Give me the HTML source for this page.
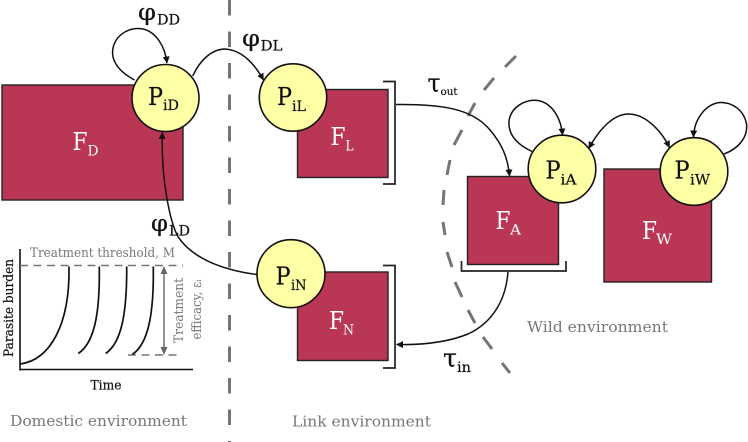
<!DOCTYPE html>
<html><head><meta charset="utf-8"><style>
html,body{margin:0;padding:0;background:#fff}
svg{display:block}
text{font-family:"DejaVu Serif","Liberation Serif",serif}
.n{fill:#111;stroke:#111;stroke-width:.2}.w{fill:#fff}.g{fill:#777}
.big{font-size:24px}.sub{font-size:14px}
.r{fill:#b93655;stroke:#222;stroke-width:1.4}
.c{fill:#ffffa6;stroke:#111;stroke-width:1.6}
.l{fill:none;stroke:#111;stroke-width:1.5}
.b{fill:none;stroke:#222;stroke-width:1.7}
.d{stroke:#757575;stroke-width:3;fill:none}
</style></head><body>
<svg width="748" height="442" viewBox="0 0 748 442" xmlns="http://www.w3.org/2000/svg">
<defs><marker id="a" markerWidth="8" markerHeight="8" refX="6.5" refY="3.5" orient="auto" markerUnits="userSpaceOnUse"><path d="M0 0L7 3.5L0 7Z" fill="#111"/></marker>
<marker id="s" markerWidth="8" markerHeight="8" refX="1" refY="3.5" orient="auto" markerUnits="userSpaceOnUse"><path d="M7 0L0 3.5L7 7Z" fill="#111"/></marker></defs>

<path d="M229.5 0V442" class="d" stroke-dasharray="15.5 16"/>
<path class="d" d="M516 56L505 67M494 78L484 90M475 103L468 116M462 130L454 145M450 160L447 175M444 190L443 205M443 222L445 235M447 252L452 267M455 282L462 297M468 310L475 323M483 337L492 349M502 363L510 373"/>

<rect class="r" x="2" y="85" width="181" height="115"/>
<rect class="r" x="297.5" y="89.5" width="90.5" height="88"/>
<rect class="r" x="297.5" y="272" width="90.5" height="88.5"/>
<rect class="r" x="467.5" y="176.5" width="91" height="88"/>
<rect class="r" x="604" y="169" width="107.5" height="113"/>

<path class="b" d="M383 81.5H395V184H383M383 265.5H395V368H383M461.5 261V271H566V261"/>

<path class="l" d="M134.5 80C116 70 110 58 113.5 46C118 32 132 27 143 29C156 32 165 46 167 63" marker-end="url(#a)"/>
<path class="l" d="M192.7 76C200 60 212 49 225 49C242 50 254 63 263.5 80" marker-end="url(#a)"/>
<path class="l" d="M257 274.5C222 270 192 258 178 236.7C170 222 161 180 162.3 132.5" marker-end="url(#a)"/>
<path class="l" d="M396 104.5C440 104 472 108 490 130C502 144 508 158 509.5 176" marker-end="url(#a)"/>
<path class="l" d="M508 272C506 298 494 322 468 334C446 343 420 345 396.5 344.5" marker-end="url(#a)"/>
<path class="l" d="M532 151.5C516 144 508 134 509 121C511 107 525 99 538 100.5C552 103 561 118 562.5 135" marker-end="url(#a)"/>
<path class="l" d="M724 154C740 148 748 136 746.5 124C744 110 732 102 720 102.5C705 104 694 120 693.5 137" marker-end="url(#a)"/>
<path class="l" d="M589 148C600 128 614 114 628.5 114C645 114 661 130 669.5 147.5" marker-start="url(#s)" marker-end="url(#a)"/>

<circle class="c" cx="165.5" cy="98" r="33.5"/>
<circle class="c" cx="293" cy="97.5" r="33.7"/>
<circle class="c" cx="291" cy="273.7" r="34"/>
<circle class="c" cx="562" cy="169" r="33.8"/>
<circle class="c" cx="694" cy="171.5" r="33.8"/>

<text class="n big" x="148" y="105" textLength="15" lengthAdjust="spacingAndGlyphs">P</text><text class="n sub" x="163" y="110" textLength="16" lengthAdjust="spacingAndGlyphs">iD</text>
<text class="n big" x="277" y="105" textLength="15" lengthAdjust="spacingAndGlyphs">P</text><text class="n sub" x="292" y="111" textLength="14" lengthAdjust="spacingAndGlyphs">iL</text>
<text class="n big" x="275.5" y="284.5" textLength="15" lengthAdjust="spacingAndGlyphs">P</text><text class="n sub" x="291" y="290" textLength="15.5" lengthAdjust="spacingAndGlyphs">iN</text>
<text class="n big" x="545.5" y="178.5" textLength="15" lengthAdjust="spacingAndGlyphs">P</text><text class="n sub" x="560.5" y="184.5" textLength="16" lengthAdjust="spacingAndGlyphs">iA</text>
<text class="n big" x="674.5" y="178.5" textLength="15" lengthAdjust="spacingAndGlyphs">P</text><text class="n sub" x="690" y="184.5" textLength="20" lengthAdjust="spacingAndGlyphs">iW</text>

<text class="w big" x="72.5" y="150" textLength="15" lengthAdjust="spacingAndGlyphs">F</text><text class="w sub" x="87.5" y="155.5" textLength="11" lengthAdjust="spacingAndGlyphs">D</text>
<text class="w big" x="330.5" y="145" textLength="15" lengthAdjust="spacingAndGlyphs">F</text><text class="w sub" x="345.5" y="150.5" textLength="8" lengthAdjust="spacingAndGlyphs">L</text>
<text class="w big" x="329" y="329" textLength="15" lengthAdjust="spacingAndGlyphs">F</text><text class="w sub" x="343" y="334.5" textLength="11" lengthAdjust="spacingAndGlyphs">N</text>
<text class="w big" x="495.5" y="229" textLength="15" lengthAdjust="spacingAndGlyphs">F</text><text class="w sub" x="510" y="234.5" textLength="11" lengthAdjust="spacingAndGlyphs">A</text>
<text class="w big" x="642" y="239" textLength="15" lengthAdjust="spacingAndGlyphs">F</text><text class="w sub" x="656" y="244" textLength="16" lengthAdjust="spacingAndGlyphs">W</text>

<text class="n" font-size="23" x="138" y="20" textLength="18" lengthAdjust="spacingAndGlyphs">φ</text><text class="n sub" x="157" y="24.5" textLength="23" lengthAdjust="spacingAndGlyphs">DD</text>
<text class="n" font-size="23" x="242" y="46" textLength="18" lengthAdjust="spacingAndGlyphs">φ</text><text class="n sub" x="260.5" y="50.5" textLength="22" lengthAdjust="spacingAndGlyphs">DL</text>
<text class="n" font-size="23" x="151" y="231" textLength="17" lengthAdjust="spacingAndGlyphs">φ</text><text class="n sub" x="169" y="235.5" textLength="21" lengthAdjust="spacingAndGlyphs">LD</text>
<text class="n" font-size="25" x="427.5" y="91.5" textLength="13" lengthAdjust="spacingAndGlyphs" stroke-width=".5">τ</text><text class="n" font-size="10.5" x="440.5" y="95" textLength="17" lengthAdjust="spacingAndGlyphs">out</text>
<text class="n" font-size="25" x="443" y="366.5" textLength="14" lengthAdjust="spacingAndGlyphs">τ</text><text class="n sub" x="457" y="372" textLength="14" lengthAdjust="spacingAndGlyphs">in</text>

<path d="M20 249V370.5M19.5 369.5H193" fill="none" stroke="#111" stroke-width="1.6"/>
<path d="M20 265.5H183M128 355H181" fill="none" stroke="#757575" stroke-width="1.6" stroke-dasharray="8 5.5"/>
<g fill="none" stroke="#111" stroke-width="1.7">
<path d="M20 364C50 360 70 325 69 266.5"/>
<path d="M78.3 353.5C94 343 100 315 99.3 266.5"/>
<path d="M105.7 353.5C121 343 127 315 126.7 266.5"/>
<path d="M132.3 354.5C148 344 154 315 153.3 266.5"/>
</g>
<path d="M164 272V349" stroke="#666" stroke-width="1.4"/>
<path d="M164 266L160.5 274H167.5ZM164 355L160.5 347H167.5Z" fill="#666"/>

<text class="g" font-size="13" x="30" y="257" textLength="145" lengthAdjust="spacingAndGlyphs">Treatment threshold, M</text>
<text class="n" font-size="13" transform="translate(13,357) rotate(-90)" textLength="98" lengthAdjust="spacingAndGlyphs">Parasite burden</text>
<text class="n" font-size="13" x="90.5" y="389.5" textLength="31" lengthAdjust="spacingAndGlyphs">Time</text>
<text class="g" font-size="13" transform="translate(183,343) rotate(-90)" textLength="65" lengthAdjust="spacingAndGlyphs">Treatment</text>
<text class="g" font-size="13" transform="translate(201,339.5) rotate(-90)" textLength="60" lengthAdjust="spacingAndGlyphs">efficacy, εᵢ</text>
<text class="g" font-size="15" x="10" y="426" textLength="177" lengthAdjust="spacingAndGlyphs">Domestic environment</text>
<text class="g" font-size="15" x="292" y="426.5" textLength="139" lengthAdjust="spacingAndGlyphs">Link environment</text>
<text class="g" font-size="15" x="527" y="332" textLength="141" lengthAdjust="spacingAndGlyphs">Wild environment</text>
</svg>
</body></html>
